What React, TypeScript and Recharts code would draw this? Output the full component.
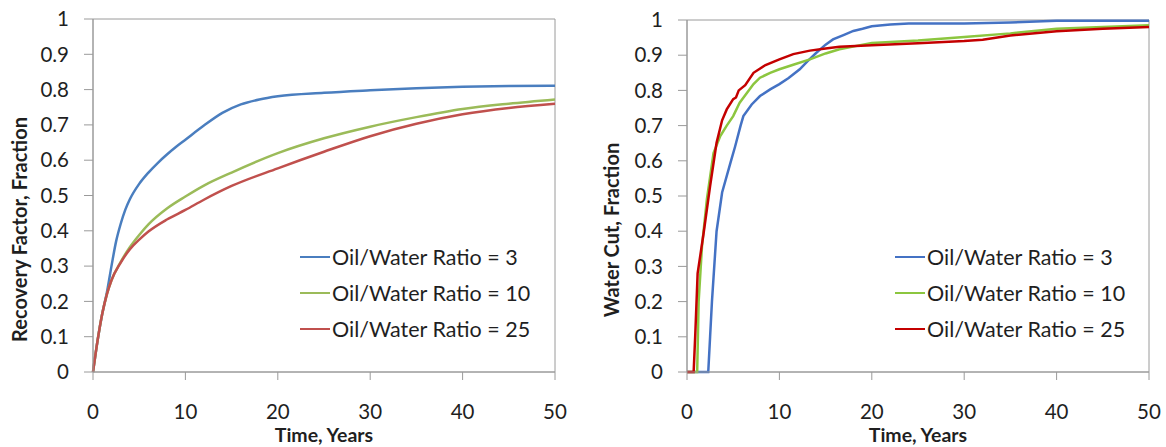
import React from "react";
import {
  LineChart,
  Line,
  XAxis,
  YAxis,
  ReferenceArea,
} from "recharts";

// ---------- Left chart: Recovery factor ----------
const rfTimes3 = [0, 0.5, 1, 1.5, 2, 2.5, 3, 3.5, 4, 5, 6, 7, 8, 9, 10, 12, 14, 16, 18, 20, 25, 30, 35, 40, 45, 50];
const rfValues3 = [0, 0.09, 0.165, 0.225, 0.3, 0.37, 0.42, 0.46, 0.49, 0.533, 0.565, 0.592, 0.616, 0.638, 0.658, 0.698, 0.734, 0.758, 0.772, 0.781, 0.791, 0.798, 0.804, 0.808, 0.81, 0.811];

const rfTimes10 = [0, 0.5, 1, 1.5, 2, 3, 4, 5, 6, 8, 10, 12, 15, 20, 25, 30, 35, 40, 45, 50];
const rfValues10 = [0, 0.09, 0.165, 0.22, 0.26, 0.312, 0.354, 0.388, 0.418, 0.463, 0.497, 0.528, 0.565, 0.62, 0.662, 0.695, 0.722, 0.745, 0.76, 0.772];

const rfTimes25 = [0, 0.5, 1, 1.5, 2, 3, 4, 5, 6, 8, 10, 12, 15, 20, 25, 30, 35, 40, 45, 50];
const rfValues25 = [0, 0.09, 0.165, 0.22, 0.26, 0.31, 0.348, 0.375, 0.398, 0.432, 0.459, 0.488, 0.527, 0.577, 0.624, 0.668, 0.703, 0.73, 0.748, 0.76];

// ---------- Right chart: Water cut ----------
const wcTimes3 = [0, 2.3, 2.5, 2.7, 3.2, 3.8, 4.7, 5.2, 5.8, 6.1, 7, 7.9, 9, 10, 11, 12.2, 13, 14, 15, 15.8, 17, 18, 19, 20, 22, 24, 30, 35, 40, 45, 50];
const wcValues3 = [0, 0, 0.1, 0.2, 0.4, 0.51, 0.594, 0.64, 0.7, 0.727, 0.76, 0.784, 0.803, 0.818, 0.835, 0.86, 0.882, 0.907, 0.93, 0.945, 0.958, 0.969, 0.975, 0.982, 0.987, 0.99, 0.99, 0.993, 0.998, 0.998, 0.998];

const wcTimes10 = [0, 1.1, 1.26, 1.62, 2.15, 2.87, 3.6, 4.3, 5, 5.7, 6.5, 7.2, 7.9, 9, 10, 11.5, 13.3, 15, 16.5, 20, 25, 30, 35, 40, 45, 50];
const wcValues10 = [0, 0, 0.2, 0.356, 0.49, 0.622, 0.67, 0.7, 0.727, 0.765, 0.793, 0.818, 0.836, 0.85, 0.86, 0.873, 0.888, 0.905, 0.917, 0.935, 0.942, 0.952, 0.962, 0.975, 0.98, 0.985];

const wcTimes25 = [0, 0.72, 0.9, 1.15, 1.8, 2.5, 3.2, 3.8, 4.3, 5, 5.3, 5.6, 6.3, 7.2, 8.5, 10, 11.5, 13.3, 15, 16.5, 20, 25, 30, 32, 35, 40, 45, 50];
const wcValues25 = [0, 0, 0.11, 0.28, 0.395, 0.528, 0.651, 0.715, 0.746, 0.775, 0.78, 0.8, 0.815, 0.85, 0.872, 0.888, 0.903, 0.913, 0.919, 0.924, 0.928, 0.934, 0.94, 0.944, 0.956, 0.968, 0.975, 0.98];

const xTicks = [0, 10, 20, 30, 40, 50];
const yTicks = [0, 0.1, 0.2, 0.3, 0.4, 0.5, 0.6, 0.7, 0.8, 0.9, 1];

const seriesNames = ["Oil/Water Ratio = 3", "Oil/Water Ratio = 10", "Oil/Water Ratio = 25"];

const toPoints = (ts: number[], vs: number[]) => ts.map((t, i) => ({ t, v: vs[i] }));

const FONT = "Lato, 'Open Sans', sans-serif";
const BORDER = "#9a9a9a";
const TEXT = "#1f1f1f";

type SeriesDef = { name: string; color: string; data: { t: number; v: number }[] };

const leftSeries: SeriesDef[] = [
  { name: seriesNames[0], color: "#4a7ebf", data: toPoints(rfTimes3, rfValues3) },
  { name: seriesNames[1], color: "#9bbb59", data: toPoints(rfTimes10, rfValues10) },
  { name: seriesNames[2], color: "#c0504d", data: toPoints(rfTimes25, rfValues25) },
];

const rightSeries: SeriesDef[] = [
  { name: seriesNames[0], color: "#4472c4", data: toPoints(wcTimes3, wcValues3) },
  { name: seriesNames[1], color: "#8cc63f", data: toPoints(wcTimes10, wcValues10) },
  { name: seriesNames[2], color: "#c40000", data: toPoints(wcTimes25, wcValues25) },
];

const LegendBox = ({ series, left, top }: { series: SeriesDef[]; left: number; top: number }) => (
  <div
    style={{
      position: "absolute",
      left,
      top,
      fontFamily: FONT,
      fontSize: 21.5,
      color: TEXT,
      lineHeight: "36px",
    }}
  >
    {series.map((s) => (
      <div key={s.name} style={{ display: "flex", alignItems: "center", height: 36, whiteSpace: "nowrap" }}>
        <svg width={30} height={4} style={{ marginRight: 2 }}>
          <line x1={0} y1={2} x2={30} y2={2} stroke={s.color} strokeWidth={2} />
        </svg>
        <span>{s.name}</span>
      </div>
    ))}
  </div>
);

type PanelProps = {
  series: SeriesDef[];
  yTitle: string;
  yAxisWidth: number;
  marginTop: number;
  marginRight: number;
  yTitleX: number;
  legendLeft: number;
  curve: "monotone" | "linear";
};

const Panel = ({ series, yTitle, yAxisWidth, marginTop, marginRight, yTitleX, legendLeft, curve }: PanelProps) => {
  const height = 447;
  const xAxisHeight = 75;
  return (
    <div style={{ position: "relative", width: 583, height }}>
      <LineChart
        width={583}
        height={height}
        margin={{ top: marginTop, right: marginRight, bottom: 0, left: 0 }}
      >
        <XAxis
          dataKey="t"
          type="number"
          domain={[0, 50]}
          ticks={xTicks}
          interval={0}
          allowDuplicatedCategory={false}
          height={xAxisHeight}
          stroke={BORDER}
          tickSize={8}
          tickMargin={24}
          tick={{ fill: TEXT, fontSize: 20.5, fontFamily: FONT }}
          label={{
            content: (lp: any) => {
              const vb = lp.viewBox;
              return (
                <text
                  x={vb.x + vb.width / 2}
                  y={vb.y + 62}
                  textAnchor="middle"
                  dominantBaseline="central"
                  fontFamily={FONT}
                  fontWeight={700}
                  fontSize={19.5}
                  fill={TEXT}
                >
                  Time, Years
                </text>
              );
            },
          }}
        />
        <YAxis
          type="number"
          domain={[0, 1]}
          ticks={yTicks}
          interval={0}
          width={yAxisWidth}
          stroke={BORDER}
          tickSize={9}
          tickMargin={15}
          tick={{ fill: TEXT, fontSize: 20.5, fontFamily: FONT }}
          label={{
            content: (lp: any) => {
              const vb = lp.viewBox;
              const cy = vb.y + vb.height / 2 + 34;
              return (
                <text
                  x={yTitleX}
                  y={cy}
                  transform={`rotate(-90 ${yTitleX} ${cy})`}
                  textAnchor="middle"
                  dominantBaseline="central"
                  fontFamily={FONT}
                  fontWeight={700}
                  fontSize={20}
                  fill={TEXT}
                >
                  {yTitle}
                </text>
              );
            },
          }}
        />
        <ReferenceArea x1={0} x2={50} y1={0} y2={1} fill="none" stroke={BORDER} strokeWidth={1} />
        {series.map((s) => (
          <Line
            key={s.name}
            data={s.data}
            dataKey="v"
            name={s.name}
            type={curve}
            stroke={s.color}
            strokeWidth={2.5}
            dot={false}
            activeDot={false}
            isAnimationActive={false}
          />
        ))}
      </LineChart>
      <LegendBox series={series} left={legendLeft} top={239} />
    </div>
  );
};

export default function App() {
  return (
    <div
      style={{
        position: "absolute",
        top: 0,
        left: 0,
        width: 1166,
        height: 447,
        background: "#fff",
        display: "flex",
      }}
    >
      <Panel
        series={leftSeries}
        yTitle="Recovery Factor, Fraction"
        yAxisWidth={93}
        marginTop={19}
        marginRight={28}
        yTitleX={19}
        legendLeft={300}
        curve="monotone"
      />
      <Panel
        series={rightSeries}
        yTitle="Water Cut, Fraction"
        yAxisWidth={104}
        marginTop={20}
        marginRight={17}
        yTitleX={28}
        legendLeft={312}
        curve="linear"
      />
    </div>
  );
}
